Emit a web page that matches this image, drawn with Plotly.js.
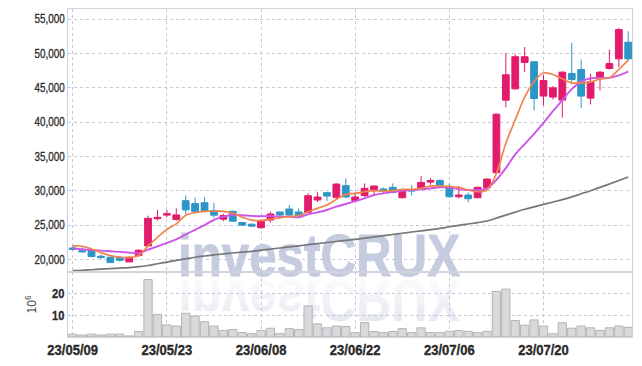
<!DOCTYPE html>
<html>
<head>
<meta charset="utf-8">
<script src="https://cdn.plot.ly/plotly-3.0.1.min.js"></script>
<style>
  html, body { margin: 0; padding: 0; background: #ffffff; }
  #wrap { position: relative; width: 642px; height: 366px; }
  #wm { position: absolute; left: 0; top: 0; z-index: 0; }
  #chart { position: absolute; left: 0; top: 0; z-index: 1; }
</style>
</head>
<body>
<div id="wrap">
  <svg id="wm" width="642" height="366">
    <defs>
      <linearGradient id="fade" x1="0" y1="0" x2="0" y2="1">
        <stop offset="0" stop-color="#e0e3ed" stop-opacity="1"/>
        <stop offset="0.85" stop-color="#e0e3ed" stop-opacity="0.1"/>
      </linearGradient>
    </defs>
    <text x="319" y="276" text-anchor="middle" textLength="282" lengthAdjust="spacingAndGlyphs" font-family="Liberation Sans, Arial, sans-serif" font-weight="bold" font-size="60" fill="#c6cce0" stroke="#c6cce0" stroke-width="1">investCRUX</text>
    <text x="319" y="276" text-anchor="middle" textLength="282" lengthAdjust="spacingAndGlyphs" transform="translate(0,556) scale(1,-1)" font-family="Liberation Sans, Arial, sans-serif" font-weight="bold" font-size="60" fill="url(#fade)">investCRUX</text>
  </svg>
  <div id="chart"></div>
</div>
<script>
// Trading days (yy/mm/dd)
const dates = [
  "23/05/09","23/05/10","23/05/11","23/05/12","23/05/15","23/05/16","23/05/17","23/05/18","23/05/19","23/05/22",
  "23/05/23","23/05/24","23/05/25","23/05/26","23/05/30","23/05/31","23/06/01","23/06/02","23/06/05","23/06/07",
  "23/06/08","23/06/09","23/06/12","23/06/13","23/06/14","23/06/15","23/06/16","23/06/19","23/06/20","23/06/21",
  "23/06/22","23/06/23","23/06/26","23/06/27","23/06/28","23/06/29","23/06/30","23/07/03","23/07/04","23/07/05",
  "23/07/06","23/07/07","23/07/10","23/07/11","23/07/12","23/07/13","23/07/14","23/07/17","23/07/18","23/07/19",
  "23/07/20","23/07/21","23/07/24","23/07/25","23/07/26","23/07/27","23/07/28","23/07/31","23/08/01","23/08/02"
];
const tickLabels = ["23/05/09","23/05/23","23/06/08","23/06/22","23/07/06","23/07/20"];

const openP = [
  21650,21250,21270,20450,20300,20300,19620,20540,21950,25920,
  26450,25800,28550,28120,28260,27100,25850,27000,25360,25120,
  24600,25730,26900,27330,26900,26850,28640,29710,29030,30730,
  28550,29270,30000,30240,30490,28980,30150,30340,31260,31500,
  30630,29120,29370,28980,30440,32630,43200,44850,48700,48800,
  43800,43650,43210,47090,47670,43500,46410,47820,49220,51650
];
const highP = [
  21900,21750,21370,20700,20400,20500,20450,21470,26360,27190,
  27190,27440,29320,28990,29080,28210,26620,27100,25460,25220,
  25830,26940,26940,27910,27430,29610,29760,29850,31070,31800,
  29760,31070,30780,30490,31070,30240,30780,32130,31800,31650,
  31070,30680,29710,30580,31800,41250,50060,49920,50940,48800,
  46900,45250,47430,51550,49130,47090,47430,50580,53730,53250
];
const lowP = [
  21300,21050,20300,20050,19470,19670,19600,20400,21850,25630,
  26120,25650,26620,26810,26860,26040,25560,25460,24880,24690,
  24500,25340,25830,26310,25980,26700,28350,28500,28790,28980,
  28400,29130,29370,29610,29610,28840,29320,30190,30870,30580,
  29030,28880,28300,28880,30340,32530,42170,44710,47290,41690,
  42450,43310,40640,45490,42100,42580,44620,47670,48010,48880
];
const closeP = [
  21450,21100,20400,20250,19520,19850,20300,21320,25970,26120,
  26650,26470,27200,26960,27100,26430,26380,25560,24980,24830,
  25650,26600,26460,26460,26360,29270,29080,29220,30970,29080,
  29080,30340,30680,29900,29760,30150,29950,31210,31500,30780,
  29120,29370,28830,30490,31700,41150,46900,49530,49530,43440,
  46070,45000,47280,46220,43790,45880,47280,48540,53490,49220
];
// moving averages
const ma5 = [
  21950,21900,21510,20980,20540,20300,20250,20540,21950,23210,
  24350,25170,26430,26810,27000,27000,27000,26720,26140,25700,
  25650,25830,26070,26220,26360,26940,27430,27910,28740,29470,
  29610,29850,30000,29950,30000,30190,30190,30340,30680,30680,
  30630,30490,30100,29850,30100,32530,36920,40320,43640,45930,
  47160,46940,46310,45730,45730,45830,46310,46460,47670,49030
];
const ma20 = [
  21610,21460,21370,21270,21170,21080,20980,20900,21400,21880,
  22400,22900,23620,24300,24980,25750,26230,26470,26430,26330,
  26270,26310,26220,26220,26120,26560,26850,27190,27670,28060,
  28470,28880,29370,29610,29850,30000,30100,30190,30340,30490,
  30460,30240,30100,30100,30340,31600,33300,35300,36800,38300,
  39900,41600,43200,44800,45900,46400,46450,46450,46800,47400
];
const ma60 = [
  18340,18400,18480,18560,18640,18720,18800,18920,19100,19350,
  19600,19850,20080,20300,20480,20640,20780,20920,21050,21170,
  21330,21490,21650,21810,21970,22130,22290,22450,22600,22750,
  22900,23080,23260,23440,23620,23800,23980,24150,24320,24500,
  24750,24950,25150,25350,25580,26000,26450,26880,27300,27650,
  28000,28350,28700,29100,29550,30000,30480,30980,31480,32000
];
// volume in millions of shares
const volume = [
  1.3,0.9,1.3,0.9,1.3,1.3,0.5,2.5,26.2,10.3,
  5.5,5.0,10.8,9.6,7.0,5.0,3.0,3.4,2.0,1.5,
  3.0,4.0,1.5,3.8,3.4,14.2,6.0,4.2,5.0,4.8,
  2.0,6.6,2.5,2.0,2.5,3.8,2.0,4.2,2.0,2.0,
  2.6,3.0,2.6,2.0,2.6,20.8,21.8,7.5,5.4,7.8,
  5.0,1.5,6.5,4.0,5.0,4.2,3.0,4.2,5.0,4.4
];

const FONT = "Liberation Sans, Arial, sans-serif";
const GRID = "#c6c8da";
const FRAME = "#d2d3dc";

const traces = [
  {
    type: "candlestick", x: dates, open: openP, high: highP, low: lowP, close: closeP,
    xaxis: "x", yaxis: "y",
    increasing: { line: { color: "#e31b6c", width: 1 }, fillcolor: "#e31b6c" },
    decreasing: { line: { color: "#2e96c6", width: 1 }, fillcolor: "#2e96c6" },
    hoverinfo: "skip"
  },
  { type: "scatter", mode: "lines", x: dates, y: ma60, line: { color: "#76767b", width: 1.7, shape: "spline" }, xaxis: "x", yaxis: "y", hoverinfo: "skip" },
  { type: "scatter", mode: "lines", x: dates, y: ma20, line: { color: "#cc55ea", width: 1.9, shape: "spline" }, xaxis: "x", yaxis: "y", hoverinfo: "skip" },
  { type: "scatter", mode: "lines", x: dates, y: ma5, line: { color: "#f0844c", width: 1.7, shape: "spline" }, xaxis: "x", yaxis: "y", hoverinfo: "skip" },
  {
    type: "bar", x: dates, y: volume, xaxis: "x", yaxis: "y2",
    marker: { color: "#d9d9db", line: { color: "#b4b4b8", width: 1 } },
    hoverinfo: "skip"
  }
];

const layout = {
  width: 642, height: 366,
  margin: { l: 68, r: 10, t: 9, b: 29 },
  paper_bgcolor: "rgba(0,0,0,0)",
  plot_bgcolor: "rgba(0,0,0,0)",
  showlegend: false,
  bargap: 0.12,
  boxgap: 0.28,
  boxgroupgap: 0,
  font: { family: FONT, color: "#333333", size: 12 },
  xaxis: {
    type: "category", anchor: "y2", range: [-0.5, 59.4],
    tickmode: "array", tickvals: tickLabels, ticktext: tickLabels,
    tickfont: { family: FONT, size: 14, weight: "bold", color: "#2a2a2a" },
    showgrid: true, gridcolor: GRID, griddash: "dot", gridwidth: 1,
    showline: true, linecolor: FRAME, mirror: "all",
    ticks: "", zeroline: false,
    rangeslider: { visible: false }
  },
  yaxis: {
    domain: [0.199, 1], range: [18190, 56490],
    tickvals: [20000, 25000, 30000, 35000, 40000, 45000, 50000, 55000],
    tickformat: ",d",
    tickfont: { family: FONT, size: 12, color: "#2a2a2a" },
    showgrid: true, gridcolor: GRID, griddash: "dot", gridwidth: 1,
    showline: true, linecolor: FRAME, mirror: "all",
    ticks: "", zeroline: false
  },
  yaxis2: {
    domain: [0, 0.199], range: [0, 29.75],
    tickvals: [10, 20],
    tickfont: { family: FONT, size: 13, weight: "bold", color: "#2a2a2a" },
    title: { text: "10<sup>6</sup>", font: { family: FONT, size: 12, color: "#444444" }, standoff: 10 },
    showgrid: true, gridcolor: GRID, griddash: "dot", gridwidth: 1,
    showline: true, linecolor: FRAME, mirror: "all",
    ticks: "", zeroline: false
  }
};

// narrow (and slightly thicken) the tick label glyphs to match the condensed face of the original
function condense(gd) {
  const rules = [
    [".xtick text", 0.93, 0.35],
    [".ytick text", 0.82, 0.3],
    [".y2tick text", 0.85, 0.35]
  ];
  rules.forEach(([sel, f, sw]) => {
    gd.querySelectorAll(sel).forEach(t => {
      const w = t.getComputedTextLength();
      if (w > 0) {
        t.setAttribute("textLength", (w * f).toFixed(1));
        t.setAttribute("lengthAdjust", "spacingAndGlyphs");
      }
      t.style.stroke = "#2a2a2a";
      t.style.strokeWidth = sw + "px";
    });
  });
}

Plotly.newPlot("chart", traces, layout, { staticPlot: true, displayModeBar: false })
  .then(gd => condense(gd));
</script>
</body>
</html>
